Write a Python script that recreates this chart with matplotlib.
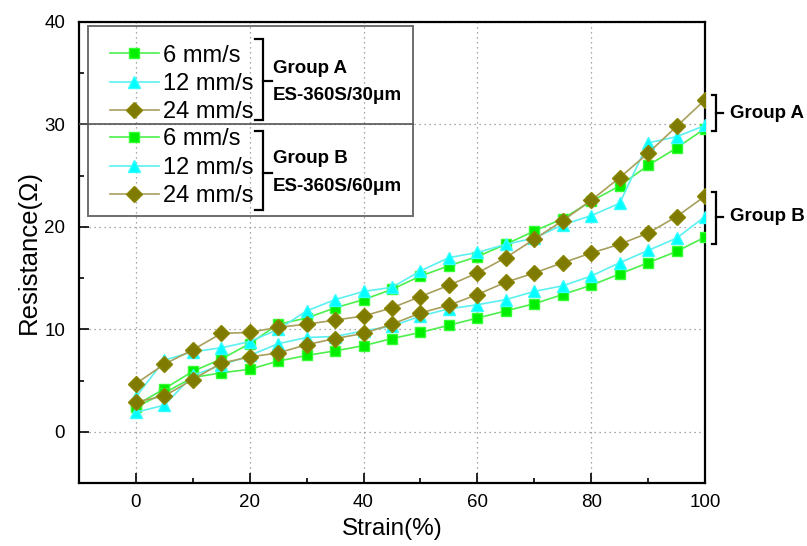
import matplotlib
matplotlib.use("Agg")
import matplotlib.pyplot as plt
from matplotlib.patches import Rectangle
from matplotlib.ticker import MultipleLocator

plt.rcParams["font.family"] = ["Liberation Sans", "DejaVu Sans"]

# ── Data ──────────────────────────────────────────────────────────────────────
strain = [0, 5, 10, 15, 20, 25, 30, 35, 40, 45, 50,
          55, 60, 65, 70, 75, 80, 85, 90, 95, 100]

# Group A  (ES-360S / 30 um)
a_6mm  = [2.6, 4.2, 5.9, 7.1, 8.6, 10.5, 11.1, 12.1, 12.9, 13.9, 15.2,
          16.2, 17.1, 18.3, 19.6, 20.8, 22.5, 24.0, 26.0, 27.7, 29.6]
a_12mm = [3.4, 7.0, 7.8, 8.2, 8.8, 10.0, 11.8, 12.9, 13.7, 14.1, 15.7,
          17.0, 17.5, 18.3, 18.9, 20.2, 21.1, 22.3, 28.2, 28.8, 29.9]
a_24mm = [4.7, 6.6, 8.0, 9.6, 9.7, 10.2, 10.5, 10.9, 11.3, 12.1, 13.2,
          14.3, 15.5, 17.0, 18.8, 20.6, 22.6, 24.8, 27.2, 29.8, 32.4]

# Group B  (ES-360S / 60 um)
b_6mm  = [2.4, 3.8, 5.3, 5.75, 6.1, 6.9, 7.45, 7.9, 8.4, 9.1, 9.7,
          10.4, 11.1, 11.8, 12.5, 13.4, 14.3, 15.4, 16.5, 17.6, 19.0]
b_12mm = [1.9, 2.6, 5.5, 6.5, 7.45, 8.6, 9.2, 9.3, 9.85, 10.3, 11.3,
          12.0, 12.4, 12.9, 13.7, 14.25, 15.2, 16.5, 17.7, 18.9, 21.0]
b_24mm = [2.9, 3.5, 5.1, 6.7, 7.3, 7.7, 8.5, 9.1, 9.6, 10.5, 11.6,
          12.35, 13.4, 14.6, 15.5, 16.5, 17.45, 18.3, 19.4, 21.0, 23.0]

speed_labels = ["6 mm/s", "12 mm/s", "24 mm/s"]

# ── Styles ────────────────────────────────────────────────────────────────────
styles = [
    dict(color="#4CF04C", marker="s", mfc="#00EE00", mec="#33FF33", ms=7.5),
    dict(color="#5CF0F0", marker="^", mfc="#00FFFF", mec="#33FFFF", ms=9),
    dict(color="#A89F5C", marker="D", mfc="#7F7A00", mec="#8A8500", ms=8),
]

fig = plt.figure(figsize=(8.07, 5.46), dpi=100)
ax = fig.add_axes([79 / 807, 1 - 483 / 546, 626 / 807, 461 / 546])

lines_a, lines_b = [], []
for ys, st, lab in zip([a_6mm, a_12mm, a_24mm], styles, speed_labels):
    ln, = ax.plot(strain, ys, lw=1.2, label=lab, zorder=3, **st)
    lines_a.append(ln)
for ys, st, lab in zip([b_6mm, b_12mm, b_24mm], styles, speed_labels):
    ln, = ax.plot(strain, ys, lw=1.2, label=lab, zorder=3, **st)
    lines_b.append(ln)

# ── Axes ──────────────────────────────────────────────────────────────────────
ax.set_xlim(-10, 100)
ax.set_ylim(-5, 40)
ax.set_xticks([0, 20, 40, 60, 80, 100])
ax.set_yticks([0, 10, 20, 30, 40])
ax.xaxis.set_minor_locator(MultipleLocator(10))
ax.yaxis.set_minor_locator(MultipleLocator(5))
ax.tick_params(which="major", direction="in", length=7, width=1.2,
               labelsize=13.5, top=False, right=False)
ax.tick_params(axis="y", which="major", pad=10)
ax.tick_params(axis="x", which="major", pad=8)
ax.tick_params(which="minor", direction="in", length=3.5, width=1.2,
               top=False, right=False)
for sp in ax.spines.values():
    sp.set_linewidth(1.6)
ax.grid(True, which="major", linestyle=(0, (1, 3)), color="#8C8C8C",
        linewidth=0.9, zorder=0)

ax.set_xlabel("Strain(%)", fontsize=17.5, labelpad=5)
ax.set_ylabel("Resistance(Ω)", fontsize=18.5, labelpad=2)

# ── Legend box ────────────────────────────────────────────────────────────────
ax.add_patch(Rectangle((-8.4, 21.1), 57.1, 18.5, fill=False,
                       edgecolor="#6E6E6E", linewidth=1.4, zorder=4))
ax.plot([-10, 48.7], [30, 30], color="#555555", lw=1.2, zorder=4)

leg_kw = dict(frameon=False, fontsize=17, handlelength=2.1,
              handletextpad=0.15, labelspacing=0.27, borderpad=0,
              borderaxespad=0, loc="upper left")
leg_a = ax.legend(handles=lines_a, bbox_to_anchor=(0.049, 0.951), **leg_kw)
ax.add_artist(leg_a)
leg_b = ax.legend(handles=lines_b, bbox_to_anchor=(0.049, 0.769), **leg_kw)

# brackets inside the legend
for top, bot, mid in [(38.3, 30.4, 34.2), (29.4, 21.6, 25.3)]:
    ax.plot([20.9, 22.3, 22.3, 20.9], [top, top, bot, bot],
            color="black", lw=1.6, zorder=5, solid_joinstyle="miter")
    ax.plot([22.3, 23.9], [mid, mid], color="black", lw=1.6, zorder=5)

ax.text(24.1, 35.5, "Group A", fontsize=13.5, fontweight="bold", va="center")
ax.text(24.1, 32.8, "ES-360S/30μm", fontsize=13.5, fontweight="bold", va="center")
ax.text(24.1, 26.7, "Group B", fontsize=13.5, fontweight="bold", va="center")
ax.text(24.1, 23.9, "ES-360S/60μm", fontsize=13.5, fontweight="bold", va="center")

# brackets on the right of the axes
for top, bot, mid, name in [(32.9, 29.4, 31.1, "Group A"),
                            (23.4, 18.3, 21.0, "Group B")]:
    ax.plot([101.2, 102.0, 102.0, 101.2], [top, top, bot, bot],
            color="black", lw=1.6, clip_on=False, solid_joinstyle="miter")
    ax.plot([102.0, 103.2], [mid, mid], color="black", lw=1.6, clip_on=False)
    ax.text(104.4, mid, name, fontsize=13.5, fontweight="bold",
            va="center", ha="left", clip_on=False)

fig.savefig("out.png", dpi=100)
